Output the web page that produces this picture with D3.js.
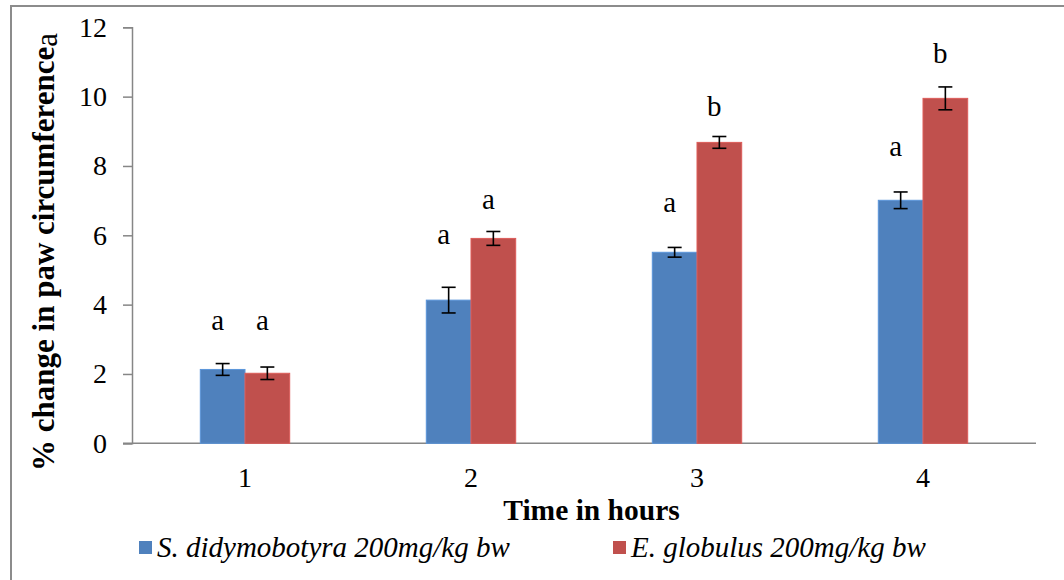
<!DOCTYPE html>
<html><head><meta charset="utf-8">
<script src="https://cdn.jsdelivr.net/npm/d3@7"></script>
<style>body{margin:0;background:#fff;} svg{display:block;} text{font-family:"Liberation Serif","Times New Roman",Times,serif;}</style>
</head><body><svg id="c" width="1064" height="580"></svg>
<script>
const categories = ["1","2","3","4"];
const seriesNames = ["S. didymobotyra 200mg/kg bw","E. globulus 200mg/kg bw"];
const sdValues = [2.13, 4.13, 5.51, 7.01];
const sdErrors = [0.17, 0.37, 0.14, 0.24];
const egValues = [2.02, 5.91, 8.68, 9.95];
const egErrors = [0.18, 0.20, 0.17, 0.33];
const sdLetters = ["a","a","a","a"];
const egLetters = ["a","a","b","b"];
const sdLetterPos = [3.27, 5.75, 6.67, 8.30];
const egLetterPos = [3.27, 6.76, 9.44, 10.97];
const yTicks = [0,2,4,6,8,10,12];
const colors = ["#4F81BD","#C0504D"];

(function(){
const svg = d3.select("#c");
svg.append("rect").attr("x",11).attr("y",6).attr("width",1070).attr("height",600)
  .attr("fill","#fff").attr("stroke","#8c8c8c").attr("stroke-width",2);

const mL=132,mR=1036,mT=27.3,mB=443.3;
const x = d3.scaleBand().domain(categories).range([mL,mR]);
const y = d3.scaleLinear().domain([0,12]).range([mB,mT]);
const bw = 44.7;

const yAxis = d3.axisLeft(y).tickValues(yTicks).tickSize(9).tickPadding(16).tickFormat(d3.format("d"));
const gy = svg.append("g").attr("transform",`translate(${mL},0)`).call(yAxis);
gy.attr("font-family",null);
gy.select(".domain").attr("stroke","#868686").attr("stroke-width",1.5);
gy.selectAll(".tick line").attr("stroke","#868686").attr("stroke-width",1.5);
gy.selectAll(".tick text").attr("font-size",28).attr("fill","#000");

const xAxis = d3.axisBottom(x).tickSize(0).tickPadding(24);
const gx = svg.append("g").attr("transform",`translate(0,${mB})`).call(xAxis);
gx.attr("font-family",null);
gx.select(".domain").attr("stroke","#868686").attr("stroke-width",1.5).attr("d",`M${mL-9},0H${mR}`);
gx.selectAll(".tick text").attr("font-size",28).attr("fill","#000");

const series = [
  {vals:sdValues, errs:sdErrors, letters:sdLetters, lpos:sdLetterPos, off:-bw, color:colors[0]},
  {vals:egValues, errs:egErrors, letters:egLetters, lpos:egLetterPos, off:0, color:colors[1]}
];
series.forEach(s=>{
  const g = svg.append("g");
  g.selectAll("rect").data(categories).join("rect")
    .attr("x",(c)=>x(c)+x.bandwidth()/2+s.off)
    .attr("y",(c,i)=>y(s.vals[i]))
    .attr("width",bw)
    .attr("height",(c,i)=>y(0)-y(s.vals[i]))
    .attr("fill",s.color)
    .attr("stroke",d3.color(s.color).brighter(0.4)).attr("stroke-width",1);
  const eg = svg.append("g").attr("stroke","#000").attr("stroke-width",1.6);
  categories.forEach((c,i)=>{
    const cx = x(c)+x.bandwidth()/2+s.off+bw/2;
    const y1=y(s.vals[i]+s.errs[i]), y2=y(s.vals[i]-s.errs[i]);
    eg.append("line").attr("x1",cx).attr("x2",cx).attr("y1",y1).attr("y2",y2);
    eg.append("line").attr("x1",cx-7).attr("x2",cx+7).attr("y1",y1).attr("y2",y1);
    eg.append("line").attr("x1",cx-7).attr("x2",cx+7).attr("y1",y2).attr("y2",y2);
    svg.append("text").attr("x",cx-5).attr("y",y(s.lpos[i]))
      .attr("text-anchor","middle").attr("font-size",29)
      .text(s.letters[i]);
  });
});

const yt = svg.append("text").attr("transform","translate(54,252) rotate(-90)")
  .attr("text-anchor","middle").attr("font-size",31);
yt.append("tspan").attr("font-weight","bold").text("% change in paw circumference");
yt.append("tspan").attr("dy",3).text("a");
svg.append("text").attr("x",591.5).attr("y",520).attr("text-anchor","middle")
  .attr("font-size",29.5).attr("font-weight","bold").text("Time in hours");

const legX=[139,613];
seriesNames.forEach((n,i)=>{
  svg.append("rect").attr("x",legX[i]).attr("y",541).attr("width",13).attr("height",13).attr("fill",colors[i]);
  svg.append("text").attr("x",legX[i]+18).attr("y",557)
    .attr("font-size",29).attr("font-style","italic").text(n);
});
})();
</script></body></html>
